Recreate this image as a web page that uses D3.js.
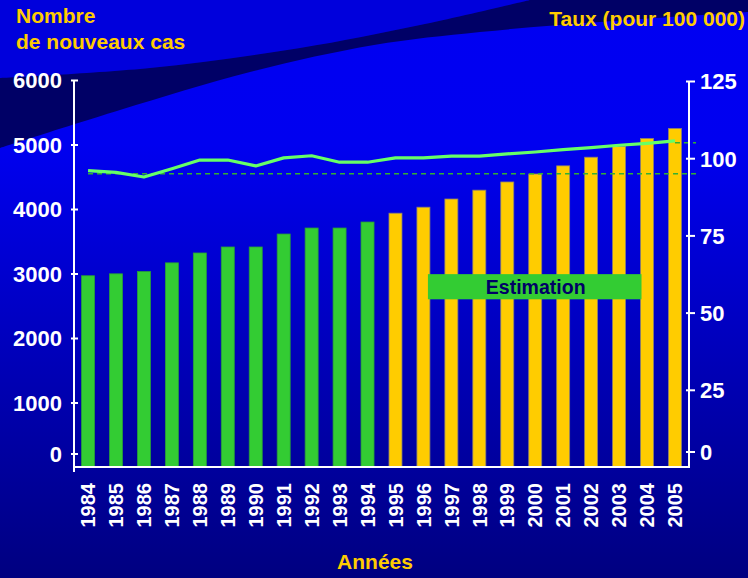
<!DOCTYPE html>
<html>
<head>
<meta charset="utf-8">
<script src="https://cdn.jsdelivr.net/npm/d3@7"></script>
<style>
  html, body { margin: 0; padding: 0; background: #000080; }
  svg { display: block; font-family: Arial, "Liberation Sans", sans-serif; font-weight: bold; }
</style>
</head>
<body>
<div class="chart"></div>
<script>
// data
const years = ['1984', '1985', '1986', '1987', '1988', '1989', '1990', '1991', '1992', '1993', '1994',
  '1995', '1996', '1997', '1998', '1999', '2000', '2001', '2002', '2003', '2004', '2005'];
const cases = [2965, 2995, 3030, 3165, 3318, 3411, 3411, 3612, 3705, 3705, 3798,
  3935, 4028, 4155, 4292, 4419, 4543, 4669, 4803, 4970, 5093, 5248];
const rates = [96.0, 95.4, 93.9, 96.6, 99.4, 99.4, 97.5, 100.1, 100.8, 98.7, 98.7,
  100.1, 100.1, 100.7, 100.7, 101.4, 102.0, 102.8, 103.4, 104.2, 104.8, 105.6];
const firstEstimatedYear = '1995';
const leftTicks = [0, 1000, 2000, 3000, 4000, 5000, 6000];
const rightTicks = [0, 25, 50, 75, 100, 125];
const refRates = [95, 105];

const width = 748;
const height = 578;
const plotLeft = 74, plotRight = 689, plotTop = 80, plotBottom = 467;

const svg = d3
  .select('.chart')
  .append('svg')
  .attr('width', width)
  .attr('height', height);

// background
const defs = svg.append('defs');
const grad = defs
  .append('linearGradient')
  .attr('id', 'bg')
  .attr('x1', 0).attr('y1', 0).attr('x2', 0).attr('y2', 1);
grad.append('stop').attr('offset', '0%').attr('stop-color', '#0000f2');
grad.append('stop').attr('offset', '25%').attr('stop-color', '#0000f0');
grad.append('stop').attr('offset', '100%').attr('stop-color', '#000080');

svg.append('rect').attr('width', width).attr('height', height).attr('fill', 'url(#bg)');

const curve = d3.line().curve(d3.curveCatmullRom);
const upperEdge = [[0, 78], [150, 68], [300, 48], [420, 25], [530, 0]];
const lowerEdge = [[748, 12], [600, 22], [480, 32], [374, 45], [250, 72], [120, 110], [0, 148]];
// upper lighter area
svg
  .append('path')
  .attr('fill', '#0000dc')
  .attr('d', 'M0,0' + curve(upperEdge).replace(/^M/, 'L') + 'Z');
// dark swoosh
svg
  .append('path')
  .attr('fill', '#000066')
  .attr('d', curve(upperEdge) + 'L748,0' + curve(lowerEdge).replace(/^M/, 'L') + 'Z');

const x = d3.scaleBand().domain(years).range([plotLeft, plotRight]).paddingInner(0.535).paddingOuter(0.27);
const xc = d => x(d) + x.bandwidth() / 2;
const yL = d3.scaleLinear().domain([0, 6000]).range([plotBottom, plotTop]);
const yR = d3.scaleLinear().domain([0, 125]).range([plotBottom, 81]);

const estIdx = years.indexOf(firstEstimatedYear);

// bars
svg
  .selectAll('.bar')
  .data(years)
  .enter()
  .append('rect')
  .attr('class', 'bar')
  .attr('x', d => x(d))
  .attr('width', x.bandwidth())
  .attr('y', (d, i) => yL(cases[i]))
  .attr('height', (d, i) => yL(0) - yL(cases[i]))
  .attr('fill', (d, i) => (i < estIdx ? '#33cc33' : '#ffcc00'))
  .attr('stroke', (d, i) => (i < estIdx ? '#2a9e3a' : '#8c8070'))
  .attr('stroke-width', 0.8);

// dashed reference lines
svg
  .selectAll('.ref')
  .data(refRates)
  .enter()
  .append('line')
  .attr('class', 'ref')
  .attr('x1', (d, i) => (i === 0 ? xc(years[0]) : xc(years[years.length - 1])))
  .attr('x2', plotRight + 7)
  .attr('y1', d => yR(d))
  .attr('y2', d => yR(d))
  .attr('stroke', '#33b033')
  .attr('stroke-width', 1.5)
  .attr('stroke-dasharray', '5,4');

// rate line
const rateLine = d3
  .line()
  .x((d, i) => xc(years[i]))
  .y(d => yR(d));

svg
  .append('path')
  .datum(rates)
  .attr('fill', 'none')
  .attr('stroke', '#66ff66')
  .attr('stroke-width', 3.2)
  .attr('stroke-linejoin', 'round')
  .attr('d', rateLine);

// estimation label
const estBox = svg.append('g');
estBox
  .append('rect')
  .attr('x', xc('1996') + 4.5)
  .attr('y', yL(2990))
  .attr('width', xc('2004') - xc('1996') - 10)
  .attr('height', yL(2600) - yL(2990))
  .attr('fill', '#33cc33');
estBox
  .append('text')
  .attr('x', (xc('1996') + xc('2004')) / 2 + 0.5)
  .attr('y', yL(2600) - 5.5)
  .attr('text-anchor', 'middle')
  .attr('fill', '#000066')
  .style('font-size', '19.5px')
  .text('Estimation');

// axes
const axisL = svg
  .append('g')
  .attr('transform', `translate(${plotLeft},0)`)
  .call(d3.axisLeft(yL).tickValues(leftTicks).tickFormat(d3.format('d')).tickSize(0).tickPadding(12));
axisL.select('.domain').remove();
axisL.selectAll('.tick')
  .filter(d => d === 0)
  .attr('transform', `translate(0,${yL(0) - 13})`);
axisL.selectAll('.tick line').attr('x1', -3).attr('x2', 4).attr('stroke', '#fff').attr('stroke-width', 2);
axisL.selectAll('.tick text').attr('fill', '#fff').style('font-size', '22px').style('font-family', 'Arial, "Liberation Sans", sans-serif').attr('dy', '0.36em');

const axisR = svg
  .append('g')
  .attr('transform', `translate(${plotRight},0)`)
  .call(d3.axisRight(yR).tickValues(rightTicks).tickFormat(d3.format('d')).tickSize(0).tickPadding(11));
axisR.select('.domain').remove();
axisR.selectAll('.tick')
  .filter(d => d === 0)
  .attr('transform', `translate(0,${yR(0) - 15})`);
axisR.selectAll('.tick line').attr('x1', -3).attr('x2', 6).attr('stroke', '#fff').attr('stroke-width', 2);
axisR.selectAll('.tick text').attr('fill', '#fff').style('font-size', '22px').style('font-family', 'Arial, "Liberation Sans", sans-serif').attr('dy', '0.36em');

svg.append('line').attr('x1', plotLeft).attr('x2', plotLeft).attr('y1', plotTop).attr('y2', plotBottom + 5).attr('stroke', '#fff').attr('stroke-width', 2);
svg.append('line').attr('x1', plotRight).attr('x2', plotRight).attr('y1', yR(125)).attr('y2', plotBottom).attr('stroke', '#fff').attr('stroke-width', 2);
svg.append('line').attr('x1', plotLeft - 1).attr('x2', plotRight + 1).attr('y1', plotBottom).attr('y2', plotBottom).attr('stroke', '#fff').attr('stroke-width', 2);

// year labels
svg
  .selectAll('.year')
  .data(years)
  .enter()
  .append('text')
  .attr('class', 'year')
  .attr('transform', d => `translate(${xc(d)},483) rotate(-90)`)
  .attr('text-anchor', 'end')
  .attr('dy', '0.36em')
  .attr('fill', '#fff')
  .style('font-size', '20px')
  .text(d => d);

// titles
const titleL = svg.append('text').attr('fill', '#ffcc00').style('font-size', '21px');
titleL.append('tspan').attr('x', 16).attr('y', 23).text('Nombre');
titleL.append('tspan').attr('x', 16).attr('y', 49).text('de nouveaux cas');

svg
  .append('text')
  .attr('x', 745)
  .attr('y', 26)
  .attr('text-anchor', 'end')
  .attr('fill', '#ffcc00')
  .style('font-size', '21px')
  .text('Taux (pour 100 000)');

svg
  .append('text')
  .attr('x', 375)
  .attr('y', 569)
  .attr('text-anchor', 'middle')
  .attr('fill', '#ffcc00')
  .style('font-size', '21px')
  .text('Années');
</script>
</body>
</html>
